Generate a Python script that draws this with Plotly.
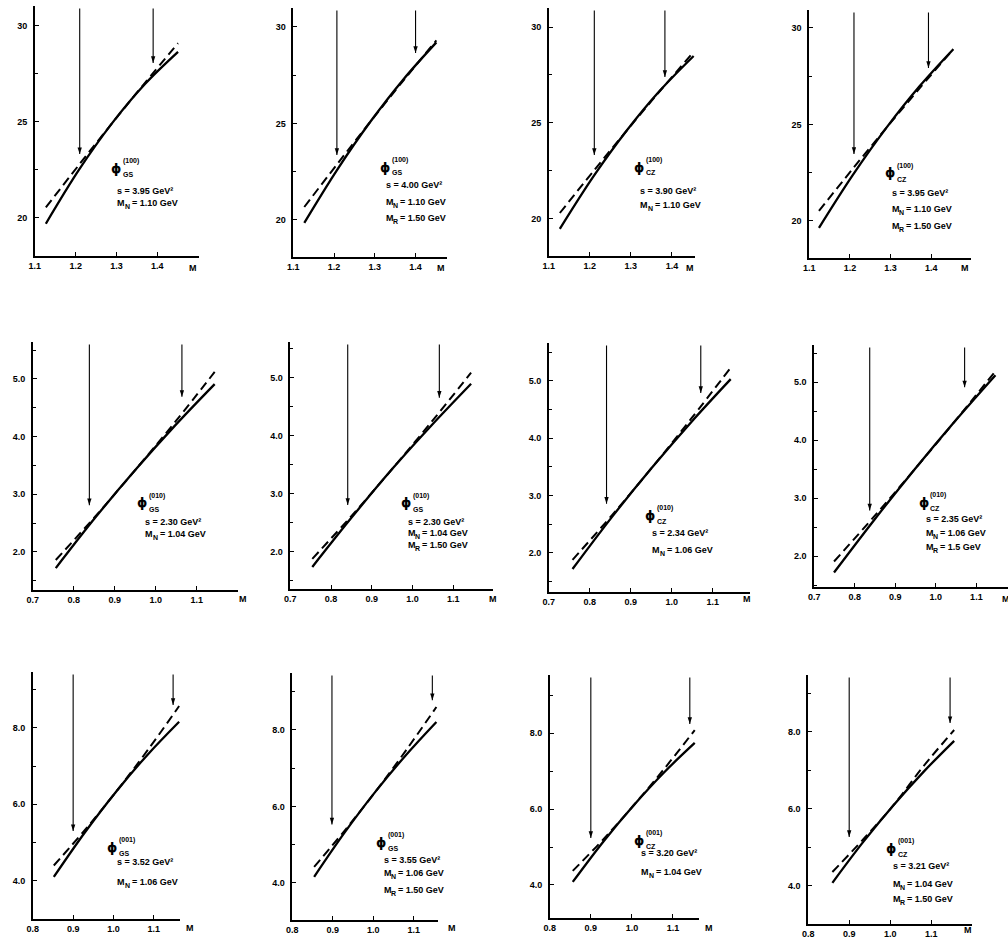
import plotly.graph_objects as go

W, H = 1008, 940

# ---------------- data ----------------
# Row 1 : Phi(100)
p1_x = [1.127, 1.208, 1.289, 1.370, 1.451]
p1_solid = [19.70, 22.50, 24.925, 26.975, 28.65]
p1_dash = [20.55, 22.76, 24.925, 27.04, 29.10]
p1_arrow_x = [1.21, 1.39]
p1_arrow_tip = [23.33, 28.07]

p2_x = [1.127, 1.208, 1.289, 1.370, 1.451]
p2_solid = [19.85, 22.61, 25.085, 27.28, 29.20]
p2_dash = [20.67, 22.90, 25.085, 27.22, 29.30]
p2_arrow_x = [1.207, 1.40]
p2_arrow_tip = [23.37, 28.65]

p3_x = [1.127, 1.2085, 1.29, 1.3715, 1.453]
p3_solid = [19.48, 22.20, 24.605, 26.70, 28.49]
p3_dash = [20.31, 22.48, 24.605, 26.68, 28.70]
p3_arrow_x = [1.211, 1.383]
p3_arrow_tip = [23.33, 27.4]

p4_x = [1.124, 1.2065, 1.289, 1.3715, 1.454]
p4_solid = [19.64, 22.36, 24.81, 26.99, 28.90]
p4_dash = [20.52, 22.69, 24.81, 26.88, 28.90]
p4_arrow_x = [1.21, 1.393]
p4_arrow_tip = [23.47, 27.93]

# Row 2 : Phi(010)
p5_x = [0.756, 0.853, 0.95, 1.047, 1.144]
p5_solid = [1.72, 2.60, 3.42, 4.19, 4.91]
p5_dash = [1.86, 2.62, 3.42, 4.25, 5.12]
p5_arrow_x = [0.838, 1.064]
p5_arrow_tip = [2.81, 4.69]

p6_x = [0.754, 0.8515, 0.949, 1.0465, 1.144]
p6_solid = [1.74, 2.60, 3.42, 4.18, 4.90]
p6_dash = [1.88, 2.63, 3.42, 4.24, 5.09]
p6_arrow_x = [0.841, 1.066]
p6_arrow_tip = [2.81, 4.66]

p7_x = [0.758, 0.8545, 0.951, 1.0475, 1.144]
p7_solid = [1.72, 2.63, 3.48, 4.28, 5.03]
p7_dash = [1.88, 2.66, 3.48, 4.34, 5.23]
p7_arrow_x = [0.841, 1.071]
p7_arrow_tip = [2.86, 4.79]

p8_x = [0.749, 0.8485, 0.948, 1.0475, 1.147]
p8_solid = [1.72, 2.63, 3.50, 4.33, 5.12]
p8_dash = [1.91, 2.69, 3.50, 4.33, 5.19]
p8_arrow_x = [0.837, 1.071]
p8_arrow_tip = [2.79, 4.91]

# Row 3 : Phi(001)
p9_x = [0.852, 0.9298, 1.0075, 1.0853, 1.163]
p9_solid = [4.10, 5.275, 6.343, 7.305, 8.16]
p9_dash = [4.40, 5.336, 6.343, 7.421, 8.57]
p9_arrow_x = [0.90, 1.148]
p9_arrow_tip = [5.3, 8.6]

p10_x = [0.854, 0.9295, 1.005, 1.0805, 1.156]
p10_solid = [4.16, 5.32, 6.38, 7.34, 8.21]
p10_dash = [4.42, 5.37, 6.38, 7.46, 8.60]
p10_arrow_x = [0.898, 1.146]
p10_arrow_tip = [5.53, 8.78]

p11_x = [0.856, 0.9303, 1.0045, 1.0788, 1.153]
p11_solid = [4.08, 5.14, 6.10, 6.97, 7.74]
p11_dash = [4.37, 5.20, 6.10, 7.06, 8.08]
p11_arrow_x = [0.90, 1.141]
p11_arrow_tip = [5.24, 8.24]

p12_x = [0.859, 0.9333, 1.0075, 1.0818, 1.156]
p12_solid = [4.08, 5.13, 6.09, 6.97, 7.77]
p12_dash = [4.36, 5.20, 6.09, 7.12, 8.05]
p12_arrow_x = [0.90, 1.146]
p12_arrow_tip = [5.27, 8.23]

# tick labels per row
row1_xticks = [1.1, 1.2, 1.3, 1.4]
row1_xtext = ["1.1", "1.2", "1.3", "1.4"]
row1_yticks = [20, 25, 30]
row1_ytext = ["20", "25", "30"]
row1_yminor = [22.5, 27.5]

row2_xticks = [0.7, 0.8, 0.9, 1.0, 1.1]
row2_xtext = ["0.7", "0.8", "0.9", "1.0", "1.1"]
row2_yticks = [2.0, 3.0, 4.0, 5.0]
row2_ytext = ["2.0", "3.0", "4.0", "5.0"]
row2_yminor = [1.5, 2.5, 3.5, 4.5, 5.5]

row3_xticks = [0.8, 0.9, 1.0, 1.1]
row3_xtext = ["0.8", "0.9", "1.0", "1.1"]
row3_yticks = [4.0, 6.0, 8.0]
row3_ytext = ["4.0", "6.0", "8.0"]
row3_yminor = [5.0, 7.0, 9.0]

# panel annotation texts
panel_sup = ["(100)", "(100)", "(100)", "(100)",
             "(010)", "(010)", "(010)", "(010)",
             "(001)", "(001)", "(001)", "(001)"]
panel_sub = ["GS", "GS", "CZ", "CZ", "GS", "GS", "CZ", "CZ", "GS", "GS", "CZ", "CZ"]
panel_s = ["3.95", "4.00", "3.90", "3.95", "2.30", "2.30", "2.34", "2.35",
           "3.52", "3.55", "3.20", "3.21"]
panel_mn = ["1.10", "1.10", "1.10", "1.10", "1.04", "1.04", "1.06", "1.06",
            "1.06", "1.06", "1.04", "1.04"]
panel_mr = [None, "1.50", None, "1.50", None, "1.50", None, "1.5",
            None, "1.50", None, "1.50"]

# ---------------- layout geometry (pixels) ----------------
geom = [
    (29, 194, 256, 6), (289, 444, 257, 8), (546, 693, 256, 8), (808, 971, 258, 10),
    (27, 233, 590, 342), (286, 490, 589, 342), (546, 748, 592, 343), (813, 1008, 587, 345),
    (27, 175, 919, 672), (288, 435, 920, 673), (547, 697, 918, 675), (807, 972, 924, 675),
]
xranges = [[1.1, 1.502], [1.1, 1.478], [1.1, 1.456], [1.1, 1.498],
           [0.7, 1.2], [0.7, 1.198], [0.7, 1.19], [0.7, 1.178],
           [0.8, 1.165], [0.8, 1.161], [0.8, 1.163], [0.8, 1.20]]
yranges = [[18.02, 31.04], [18.08, 30.98], [18.07, 30.99], [18.08, 30.93],
           [1.34, 5.64], [1.36, 5.62], [1.32, 5.66], [1.47, 5.64],
           [3.0, 9.46], [3.03, 9.49], [3.13, 9.53], [3.01, 9.48]]
label_pos = [
    ((111, 168), 110, [191, 203]), ((381, 167), 380, [185, 202, 218]),
    ((637, 167), 636, [191, 205]), ((889, 173), 889, [193, 209, 226]),
    ((137, 503), 138, [522, 534]), ((402, 503), 402, [522, 533, 545]),
    ((648, 515), 648, [533, 550]), ((923, 502), 923, [519, 533, 547]),
    ((107, 847), 110, [862, 882]), ((377, 842), 378, [860, 873, 890]),
    ((637, 840), 637, [853, 872]), ((890, 848), 890, [866, 884, 899]),
]
m_label_pos = [(188, 268), (438, 268), (688, 268), (965, 268),
               (238, 599), (490, 599), (745, 599), (1006, 599),
               (185, 928), (449, 928), (707, 928), (968, 930)]

curves = [(p1_x, p1_solid, p1_dash), (p2_x, p2_solid, p2_dash), (p3_x, p3_solid, p3_dash),
          (p4_x, p4_solid, p4_dash), (p5_x, p5_solid, p5_dash), (p6_x, p6_solid, p6_dash),
          (p7_x, p7_solid, p7_dash), (p8_x, p8_solid, p8_dash), (p9_x, p9_solid, p9_dash),
          (p10_x, p10_solid, p10_dash), (p11_x, p11_solid, p11_dash),
          (p12_x, p12_solid, p12_dash)]
arrows = [(p1_arrow_x, p1_arrow_tip), (p2_arrow_x, p2_arrow_tip), (p3_arrow_x, p3_arrow_tip),
          (p4_arrow_x, p4_arrow_tip), (p5_arrow_x, p5_arrow_tip), (p6_arrow_x, p6_arrow_tip),
          (p7_arrow_x, p7_arrow_tip), (p8_arrow_x, p8_arrow_tip), (p9_arrow_x, p9_arrow_tip),
          (p10_arrow_x, p10_arrow_tip), (p11_arrow_x, p11_arrow_tip), (p12_arrow_x, p12_arrow_tip)]
rows = [(row1_xticks, row1_xtext, row1_yticks, row1_ytext, row1_yminor),
        (row2_xticks, row2_xtext, row2_yticks, row2_ytext, row2_yminor),
        (row3_xticks, row3_xtext, row3_yticks, row3_ytext, row3_yminor)]

FONT = "Liberation Sans"
tickfont = dict(family=FONT, size=9, color="black", weight="bold")
txtfont = dict(family=FONT, size=9, color="black", weight="bold")
smallfont = dict(family=FONT, size=7, color="black", weight="bold")

fig = go.Figure()
annotations = []
layout = {}


def px_x(px):
    return px / W


def px_y(py):
    return 1 - py / H


def add_text(px, py, text, font, xanchor="left"):
    annotations.append(dict(x=px_x(px), y=px_y(py), xref="paper", yref="paper",
                            text=text, showarrow=False, xanchor=xanchor, yanchor="middle",
                            font=font))


for i in range(12):
    n = "" if i == 0 else str(i + 1)
    xr, yr = "x" + n, "y" + n
    left, right, bottom, top = geom[i]
    xt, xtt, yt, ytt, ymin = rows[i // 4]

    cx, sy, dy = curves[i]
    fig.add_trace(go.Scatter(x=cx, y=dy, mode="lines", xaxis=xr, yaxis=yr,
                             line=dict(color="black", width=2, dash="9px,5px",
                                       shape="spline", smoothing=1.0),
                             showlegend=False, hoverinfo="skip"))
    fig.add_trace(go.Scatter(x=cx, y=sy, mode="lines", xaxis=xr, yaxis=yr,
                             line=dict(color="black", width=2.3, shape="spline", smoothing=1.0),
                             showlegend=False, hoverinfo="skip"))

    # arrows from the top of the axis down to the marked masses
    ax_list, tip_list = arrows[i]
    ytop = yranges[i][1] - 0.01 * (yranges[i][1] - yranges[i][0])
    for axv, tip in zip(ax_list, tip_list):
        fig.add_trace(go.Scatter(x=[axv, axv], y=[ytop, tip], mode="lines",
                                 xaxis=xr, yaxis=yr, line=dict(color="black", width=1.1),
                                 showlegend=False, hoverinfo="skip"))
        fig.add_trace(go.Scatter(x=[axv], y=[tip], mode="markers", xaxis=xr, yaxis=yr,
                                 marker=dict(symbol="arrow", angle=180, size=7, color="black",
                                             line=dict(width=0)),
                                 showlegend=False, hoverinfo="skip"))

    layout["xaxis" + n] = dict(
        domain=[px_x(left), min(px_x(right), 1.0)], range=xranges[i], anchor=yr,
        showline=True, linecolor="black", linewidth=1.6, showgrid=False, zeroline=False,
        ticks="inside", ticklen=4, tickwidth=1.2, tickcolor="black",
        tickvals=xt, ticktext=xtt, tickfont=tickfont, fixedrange=True)
    layout["yaxis" + n] = dict(
        domain=[px_y(bottom), px_y(top)], range=yranges[i], anchor=xr,
        showline=True, linecolor="black", linewidth=1.6, showgrid=False, zeroline=False,
        ticks="inside", ticklen=4, tickwidth=1.2, tickcolor="black",
        tickvals=yt, ticktext=ytt, tickfont=tickfont, ticklabelstandoff=4,
        minor=dict(tickvals=ymin, ticks="inside", ticklen=3, tickwidth=1, tickcolor="black",
                   showgrid=False),
        fixedrange=True)

    # M label at end of axis
    mx, my = m_label_pos[i]
    add_text(mx, my, "M", txtfont, xanchor="center")

    # parameter block
    (phx, phy), tx, ys = label_pos[i]
    add_text(phx, phy, "ϕ", dict(family="DejaVu Sans", size=13, color="black", weight="bold"),
             xanchor="center")
    add_text(phx + 5, phy - 7, panel_sup[i], smallfont)
    add_text(phx + 5, phy + 6, panel_sub[i], smallfont)

    add_text(tx, ys[0], "s = " + panel_s[i] + " GeV²", txtfont)
    mass_lines = [("N", panel_mn[i])]
    if panel_mr[i] is not None:
        mass_lines.append(("R", panel_mr[i]))
    for (sub, val), ly in zip(mass_lines, ys[1:]):
        add_text(tx, ly, "M", txtfont)
        add_text(tx + 7.5, ly + 3, sub, smallfont)
        add_text(tx + 14.5, ly, "= " + val + " GeV", txtfont)

fig.update_layout(
    width=W, height=H, margin=dict(l=0, r=0, t=0, b=0),
    paper_bgcolor="white", plot_bgcolor="white",
    annotations=annotations, showlegend=False, **layout)

fig.write_html("out.html", config={"displayModeBar": False})
